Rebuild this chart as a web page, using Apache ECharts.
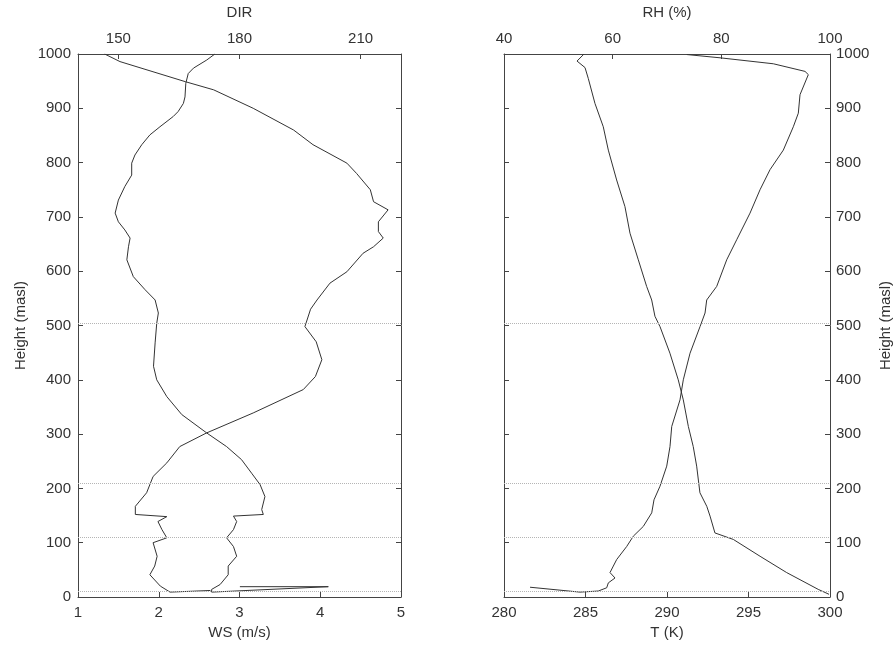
<!DOCTYPE html>
<html>
<head>
<meta charset="utf-8">
<script src="https://cdn.jsdelivr.net/npm/echarts@6/dist/echarts.min.js"></script>
<style>
  html, body { margin: 0; padding: 0; background: #fff; }
  #chart { width: 895px; height: 651px; }
</style>
</head>
<body>
<div id="chart"></div>
<script>
// Wind speed profile (bottom axis, left panel)
const wsHeight = [1000, 986, 949, 934, 900, 860, 833, 799, 780, 750, 728, 713, 691, 673, 661, 645, 633, 599, 578, 547, 530, 498, 470, 437, 406, 382, 339, 302, 277, 247, 222, 192, 167, 152, 148, 139, 124, 109, 100, 75, 57, 41, 20, 9, 12];
const wsSpeed  = [1.33, 1.52, 2.33, 2.68, 3.17, 3.67, 3.91, 4.33, 4.45, 4.62, 4.66, 4.84, 4.72, 4.72, 4.78, 4.66, 4.53, 4.33, 4.12, 3.96, 3.88, 3.81, 3.95, 4.02, 3.94, 3.79, 3.17, 2.59, 2.26, 2.10, 1.93, 1.85, 1.71, 1.71, 2.10, 1.99, 2.04, 2.10, 1.93, 1.98, 1.95, 1.89, 2.02, 2.14, 2.64];

// Wind direction profile (top axis, left panel)
const dirHeight = [1000, 989, 974, 964, 946, 921, 909, 894, 885, 866, 851, 833, 814, 799, 777, 756, 731, 707, 691, 676, 661, 645, 621, 590, 566, 547, 523, 504, 468, 425, 400, 369, 336, 302, 277, 253, 228, 207, 185, 161, 152, 149, 139, 124, 109, 93, 75, 57, 41, 23, 14, 9, 19, 19];
const dirDeg    = [173.9, 171.9, 168.6, 167.3, 166.7, 166.5, 166.1, 164.8, 163.6, 160.3, 157.8, 155.8, 154.1, 153.3, 153.3, 151.6, 150.0, 149.2, 150.0, 151.6, 152.9, 152.5, 152.1, 153.7, 156.6, 159.1, 159.9, 159.5, 159.1, 158.7, 159.5, 162.0, 165.7, 171.9, 176.8, 180.5, 183.0, 185.1, 186.3, 185.5, 185.9, 178.5, 179.3, 178.5, 176.8, 178.5, 179.3, 177.2, 177.2, 175.2, 173.1, 173.1, 202.0, 180.1];

// Temperature profile (bottom axis, right panel)
const tHeight = [1000, 987, 975, 955, 909, 866, 823, 768, 719, 670, 621, 572, 547, 517, 498, 449, 400, 363, 314, 277, 241, 192, 167, 149, 118, 106, 75, 45, 14, 5];
const tKelvin = [284.91, 284.48, 284.97, 285.17, 285.58, 286.09, 286.40, 286.91, 287.42, 287.73, 288.24, 288.75, 289.06, 289.26, 289.57, 290.18, 290.69, 291.00, 291.31, 291.61, 291.82, 292.02, 292.44, 292.64, 292.94, 294.07, 295.71, 297.34, 299.28, 299.94];

// Relative humidity profile (top axis, right panel)
const rhHeight = [999, 993, 982, 968, 962, 925, 891, 866, 823, 787, 750, 707, 658, 621, 572, 547, 523, 498, 449, 400, 363, 314, 277, 241, 204, 179, 155, 130, 112, 93, 69, 57, 45, 35, 26, 17, 11, 9, 18];
const rhPct    = [73.63, 79.76, 89.57, 95.40, 96.01, 94.48, 94.17, 93.25, 91.41, 88.96, 87.12, 85.28, 82.83, 80.99, 79.15, 77.31, 77.00, 76.08, 74.24, 73.00, 72.39, 70.87, 70.55, 69.95, 68.71, 67.61, 67.19, 65.64, 63.80, 62.58, 60.74, 60.12, 59.51, 60.43, 59.20, 58.90, 57.36, 53.99, 44.79];

// Heights of the horizontal reference levels
const refHeights = [505, 210, 110, 10];

// Tick values
const wsTicks = [1, 2, 3, 4, 5];
const dirTicks = [150, 180, 210];
const tTicks = [280, 285, 290, 295, 300];
const rhTicks = [40, 60, 80, 100];

const FONT = '"Liberation Sans", Arial, sans-serif';
const AXIS_COLOR = '#444';
const TEXT_COLOR = '#333';

function pairs(xs, hs) { return xs.map((v, i) => [v, hs[i]]); }
const plain = v => String(v);

function labelStyle(extra) {
  return Object.assign({ color: TEXT_COLOR, fontSize: 15, fontFamily: FONT, formatter: plain }, extra);
}

function baseAxis(extra) {
  return Object.assign({
    type: 'value',
    splitLine: { show: false },
    axisLine: { show: true, onZero: false, lineStyle: { color: AXIS_COLOR, width: 1 } },
    axisTick: { show: true, inside: true, length: 5, lineStyle: { color: AXIS_COLOR } },
    axisLabel: labelStyle({}),
    nameTextStyle: { color: TEXT_COLOR, fontSize: 15, fontFamily: FONT },
    nameLocation: 'middle'
  }, extra);
}

function xTicked(values, extra) {
  const ax = baseAxis(extra);
  ax.min = values[0];
  ax.max = values[values.length - 1];
  ax.interval = values[1] - values[0];
  return ax;
}

const refLine = {
  silent: true,
  symbol: 'none',
  label: { show: false },
  lineStyle: { color: '#b5b5b5', type: 'dotted', width: 1 },
  data: refHeights.map(h => ({ yAxis: h }))
};

const lineStyle = { color: '#333', width: 1 };

const option = {
  animation: false,
  backgroundColor: '#fff',
  grid: [
    { left: 78, top: 54, width: 323, height: 543 },
    { left: 504, top: 54, width: 326, height: 543 }
  ],
  xAxis: [
    xTicked(wsTicks, { gridIndex: 0, position: 'bottom', name: 'WS (m/s)', nameGap: 28,
      axisLabel: labelStyle({ margin: 8 }) }),
    baseAxis({ gridIndex: 0, position: 'top', min: 140, max: 220, name: 'DIR', nameGap: 34,
      axisLabel: labelStyle({ margin: 8, customValues: dirTicks }),
      axisTick: { show: true, inside: true, length: 5, lineStyle: { color: AXIS_COLOR }, customValues: dirTicks } }),
    xTicked(tTicks, { gridIndex: 1, position: 'bottom', name: 'T (K)', nameGap: 28,
      axisLabel: labelStyle({ margin: 8 }) }),
    xTicked(rhTicks, { gridIndex: 1, position: 'top', name: 'RH (%)', nameGap: 34,
      axisLabel: labelStyle({ margin: 8 }) })
  ],
  yAxis: [
    baseAxis({ gridIndex: 0, position: 'left', min: 0, max: 1000, interval: 100,
      name: 'Height (masl)', nameGap: 50, nameRotate: 90,
      axisLabel: labelStyle({ margin: 7 }) }),
    baseAxis({ gridIndex: 0, position: 'right', min: 0, max: 1000, interval: 100,
      axisLabel: { show: false } }),
    baseAxis({ gridIndex: 1, position: 'left', min: 0, max: 1000, interval: 100,
      axisLabel: { show: false } }),
    baseAxis({ gridIndex: 1, position: 'right', min: 0, max: 1000, interval: 100,
      name: 'Height (masl)', nameGap: 48, nameRotate: 90,
      axisLabel: labelStyle({ margin: 6 }) })
  ],
  series: [
    { name: 'WS', type: 'line', xAxisIndex: 0, yAxisIndex: 0, showSymbol: false, symbol: 'none',
      lineStyle: lineStyle, data: pairs(wsSpeed, wsHeight), markLine: refLine, z: 3 },
    { name: 'DIR', type: 'line', xAxisIndex: 1, yAxisIndex: 0, showSymbol: false, symbol: 'none',
      lineStyle: lineStyle, data: pairs(dirDeg, dirHeight), z: 3 },
    { name: 'T', type: 'line', xAxisIndex: 2, yAxisIndex: 3, showSymbol: false, symbol: 'none',
      lineStyle: lineStyle, data: pairs(tKelvin, tHeight), markLine: refLine, z: 3 },
    { name: 'RH', type: 'line', xAxisIndex: 3, yAxisIndex: 3, showSymbol: false, symbol: 'none',
      lineStyle: lineStyle, data: pairs(rhPct, rhHeight), z: 3 }
  ]
};

const chart = echarts.init(document.getElementById('chart'), null, { renderer: 'canvas' });
chart.setOption(option);
</script>
</body>
</html>
